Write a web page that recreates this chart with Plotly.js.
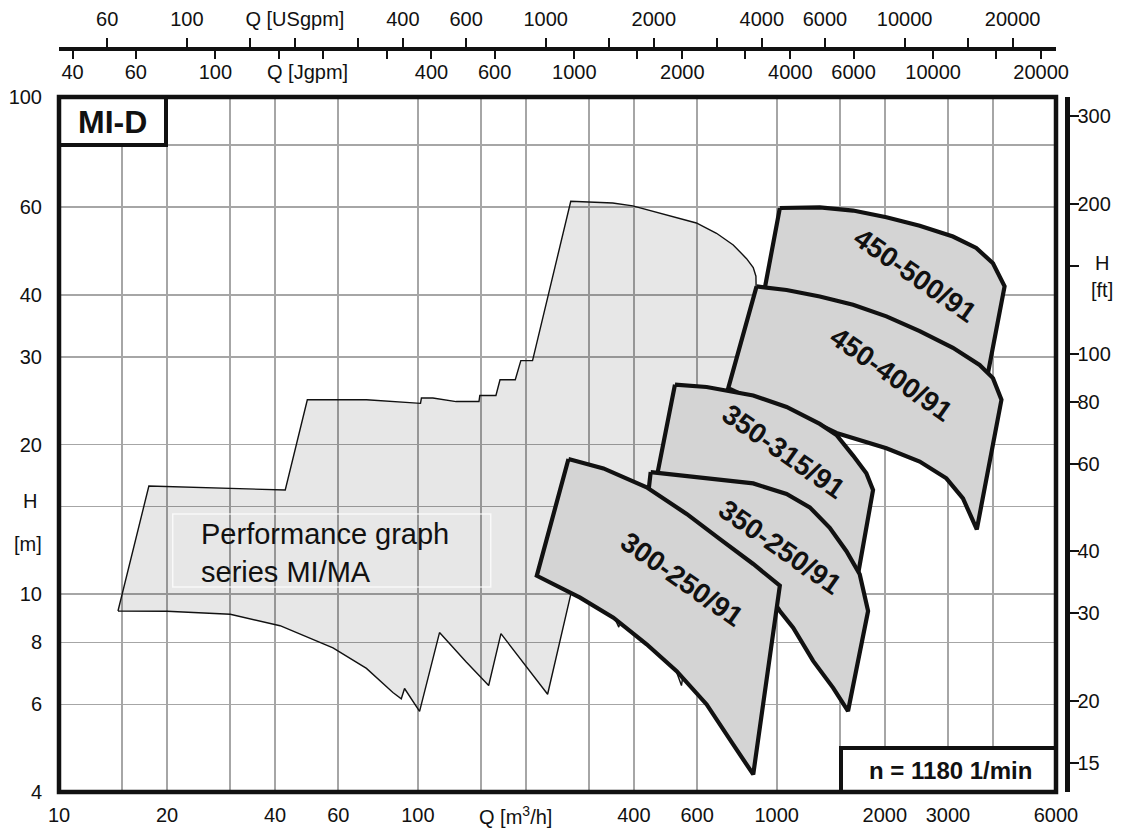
<!DOCTYPE html>
<html><head><meta charset="utf-8">
<script src="https://cdn.plot.ly/plotly-3.0.1.min.js"></script>
<style>html,body{margin:0;padding:0;background:#fff;}#chart{width:1129px;height:832px;}</style>
</head><body><div id="chart"></div>
<script>
// ---------------- data (Q in m3/h, H in m); each outline repeats its first point to close ----------------
// overall MI/MA range (light grey envelope)
const rangeQ = [14.6,17.8,42.7,49.2,71.9,88.9,101.7,102.3,110.1,127.8,148,148.8,165,169.4,186.8,193.6,208.7,266.7,349,397,472,597,679.5,756.5,824,860,875,879,756.6,637,584.8,542.6,400,363,285,267.2,229.9,170.4,157.5,136.2,114.9,101.1,91.8,89.9,85.2,71.9,58.0,41.3,30.0,20.0,14.6];
const rangeH = [9.25,16.5,16.2,24.6,24.6,24.4,24.2,24.8,24.8,24.4,24.4,25.1,25.1,27.0,27.0,29.5,29.5,61.7,61.2,60.4,58.4,55.8,53.2,50.4,47.3,45.4,43.6,35.8,22.2,12.75,9.28,6.55,12.0,8.58,12.5,10.05,6.29,8.33,6.55,7.31,8.37,5.81,6.46,6.16,6.34,7.09,7.80,8.64,9.11,9.24,9.25];

// pump sizes
const pumpNames = ["450-500/91","450-400/91","350-315/91","350-250/91","300-250/91"];
const q450_500 = [1020,1318,1632,2021,2502,3097,3597,4004,4314,3877,3097,2021,1318,926.6,1020];
const h450_500 = [59.8,60.0,59.1,57.3,55.1,52.4,49.7,46.3,41.6,27.8,30.8,35.6,39.1,41.3,59.8];
const q450_400 = [878.6,1065,1318,1632,2021,2502,3097,3675,4004,4228,3610,3303,2969,2502,2021,1632,1467,1318,1065,859.7,732.6,878.6];
const h450_400 = [41.6,40.9,39.7,38.2,36.2,33.8,31.3,28.9,27.2,24.6,13.5,15.58,17.1,18.48,19.66,20.6,21.1,21.9,23.1,24.6,25.96,41.6];
const q350_315 = [520.5,637.8,859.9,1065,1318,1467,1632,1777,1855,1685,1564,1318,1065,694.6,463,520.5];
const h350_315 = [26.4,26.1,25.1,23.8,22.0,20.9,19.0,17.5,16.2,10.97,11.86,14.05,15.5,16.7,17.2,26.4];
const q350_250 = [445.4,561,694.6,860,1065,1236,1405,1564,1703,1797,1580,1436,1263,1111,1020,860,561,438.7,445.4];
const h350_250 = [17.6,17.3,17.05,16.7,15.9,14.95,13.6,12.2,10.97,9.25,5.82,6.48,7.34,8.56,9.25,11.14,14.27,16.0,17.6];
const q300_250 = [262.8,328.9,434,561,694.6,860,1020,860,756.6,637.8,526.2,434,350.6,283.2,214.5,262.8];
const h300_250 = [18.7,17.9,16.4,14.5,12.9,11.5,10.4,4.34,4.98,6.0,7.0,7.93,8.97,9.84,10.89,18.7];
// where each pump name is written (Q, H)
const labelQ = [2434,2087,1046,1024,545];
const labelH = [43.7,27.6,19.4,12.4,10.7];

// axis ticks
const qTicks  = [10,15,20,30,40,60,100,150,200,300,400,600,1000,1500,2000,3000,4000,6000];
const qLabels = ["10","","20","","40","60","100","","","","400","600","1000","","2000","3000","","6000"];
const hTicks  = [4,6,8,10,15,20,30,40,60,80,100];
const hLabels = ["4","6","8","10","","20","30","40","60","","100"];
const ftTicks  = [15,20,30,40,60,80,100,150,200,300];
const ftLabels = ["15","20","30","40","60","80","100","","200","300"];
const usTicks  = [60,100,150,200,300,400,600,1000,1500,2000,3000,4000,6000,10000,15000,20000];
const usLabels = ["60","100","","Q [USgpm]","","400","600","1000","","2000","","4000","6000","10000","","20000"];
const igTicks  = [40,60,100,150,200,300,400,600,1000,1500,2000,3000,4000,6000,10000,15000,20000];
const igLabels = ["40","60","100","","","","400","600","1000","","2000","","4000","6000","10000","","20000"];

// unit conversions
const M_TO_FT = 3.28084, M3H_TO_USGPM = 4.40287, M3H_TO_IGPM = 3.66615;
const Q_MIN = 10, Q_MAX = 6000, H_MIN = 4, H_MAX = 100;

// ---------------- layout helpers ----------------
const W = 1129, HT = 832;
const M = {l:59, r:54, t:20, b:40};
const PW = W - M.l - M.r, PH = HT - M.t - M.b;
const xDomEnd = 997 / PW;
const yDomEnd = (792 - 97) / PH;
const px = x => (x - M.l) / PW;
const py = y => (HT - M.b - y) / PH;
const FONT = "Liberation Sans, Arial, sans-serif";
const INK = "#111111";

const pumpQ = [q450_500,q450_400,q350_315,q350_250,q300_250];
const pumpH = [h450_500,h450_400,h350_315,h350_250,h300_250];

const traces = [{
  x: rangeQ, y: rangeH, type:'scatter', mode:'lines', fill:'toself',
  fillcolor:'rgba(0,0,0,0.095)', line:{color:INK, width:1.4}, hoverinfo:'skip', showlegend:false
}];
pumpNames.forEach((n,i) => traces.push({
  x: pumpQ[i], y: pumpH[i], type:'scatter', mode:'lines', fill:'toself', name:n,
  fillcolor:'#d4d4d4', line:{color:INK, width:4.2}, hoverinfo:'skip', showlegend:false
}));
// carriers for the secondary axes
traces.push({x:[100], y:[10*M_TO_FT], xaxis:'x', yaxis:'y2', mode:'markers', marker:{opacity:0}, hoverinfo:'skip', showlegend:false});
traces.push({x:[100*M3H_TO_USGPM], y:[10], xaxis:'x2', yaxis:'y', mode:'markers', marker:{opacity:0}, hoverinfo:'skip', showlegend:false});
traces.push({x:[100*M3H_TO_IGPM], y:[10], xaxis:'x3', yaxis:'y', mode:'markers', marker:{opacity:0}, hoverinfo:'skip', showlegend:false});

const tickFont = {family:FONT, size:20, color:INK};
const topPos = py(48.5);

const layout = {
  width: W, height: HT, margin: M,
  paper_bgcolor:'#ffffff', plot_bgcolor:'#ffffff', showlegend:false,
  xaxis: {type:'log', range:[Math.log10(Q_MIN), Math.log10(Q_MAX)], domain:[0,xDomEnd], anchor:'y',
    tickmode:'array', tickvals:qTicks, ticktext:qLabels, ticks:'', showline:false, zeroline:false,
    showgrid:true, gridcolor:'#a6a6a6', gridwidth:1.6, tickfont:tickFont, ticklabelstandoff:9, fixedrange:true},
  yaxis: {type:'log', range:[Math.log10(H_MIN), Math.log10(H_MAX)], domain:[0,yDomEnd], anchor:'x',
    tickmode:'array', tickvals:hTicks, ticktext:hLabels, ticks:'', showline:false, zeroline:false,
    showgrid:true, gridcolor:'#a6a6a6', gridwidth:1.6, tickfont:tickFont, ticklabelstandoff:16, fixedrange:true},
  yaxis2: {type:'log', overlaying:'y', anchor:'free', position:px(1067), side:'right',
    range:[Math.log10(H_MIN*M_TO_FT), Math.log10(H_MAX*M_TO_FT)],
    tickmode:'array', tickvals:ftTicks, ticktext:ftLabels, ticks:'outside', ticklen:9, tickwidth:2, tickcolor:INK,
    showline:true, linewidth:4.5, linecolor:INK, showgrid:false, zeroline:false, tickfont:tickFont,
    ticklabelstandoff:-5, fixedrange:true},
  xaxis2: {type:'log', overlaying:'x', anchor:'free', position:topPos, side:'top',
    range:[Math.log10(Q_MIN*M3H_TO_USGPM), Math.log10(Q_MAX*M3H_TO_USGPM)],
    tickmode:'array', tickvals:usTicks, ticktext:usLabels, ticks:'outside', ticklen:9, tickwidth:2, tickcolor:INK,
    showline:true, linewidth:4.5, linecolor:INK, showgrid:false, zeroline:false, tickfont:tickFont,
    ticklabelstandoff:4, fixedrange:true},
  xaxis3: {type:'log', overlaying:'x', anchor:'free', position:topPos, side:'bottom',
    range:[Math.log10(Q_MIN*M3H_TO_IGPM), Math.log10(Q_MAX*M3H_TO_IGPM)],
    tickmode:'array', tickvals:igTicks, ticktext:igLabels, ticks:'outside', ticklen:9, tickwidth:2, tickcolor:INK,
    showline:false, showgrid:false, zeroline:false, tickfont:tickFont, ticklabelstandoff:-4, fixedrange:true},
  shapes: [
    {type:'rect', xref:'paper', yref:'paper', x0:px(172.7), x1:px(490.7), y0:py(587), y1:py(514),
     line:{color:'rgba(255,255,255,0.75)', width:1.5}, fillcolor:'rgba(0,0,0,0)', layer:'above'},
    {type:'rect', xref:'x domain', yref:'y domain', x0:0, x1:(166-59)/997, y0:(792-145)/695, y1:1,
     line:{color:INK, width:4}, fillcolor:'#ffffff', layer:'above'},
    {type:'rect', xref:'x domain', yref:'y domain', x0:(841-59)/997, x1:1, y0:0, y1:(792-748)/695,
     line:{color:INK, width:4}, fillcolor:'#ffffff', layer:'above'},
    {type:'rect', xref:'x domain', yref:'y domain', x0:0, x1:1, y0:0, y1:1,
     line:{color:INK, width:4.5}, fillcolor:'rgba(0,0,0,0)', layer:'above'}
  ],
  annotations: []
};

const ann = layout.annotations;
pumpNames.forEach((n,i) => ann.push({
  text:n, xref:'x', yref:'y', x:Math.log10(labelQ[i]), y:Math.log10(labelH[i]),
  xanchor:'center', yanchor:'middle',
  textangle:35, showarrow:false, font:{family:FONT, size:28, color:INK, weight:'bold'}
}));
const txt = (t, x, y, size, bold, extra) => ann.push(Object.assign({
  text:t, xref:'paper', yref:'paper', x:px(x), y:py(y), showarrow:false,
  xanchor:'center', yanchor:'middle',
  font:{family:FONT, size:size, color:INK, weight: bold ? 'bold' : 'normal'}
}, extra || {}));
txt("Performance graph<br>series MI/MA", 199, 553, 29, false, {xanchor:'left', align:'left'});
txt("MI-D", 112, 122, 32, true);
txt("n = 1180 1/min", 950, 770, 24, true);
txt("H", 29.5, 501, 20, false);
txt("[m]", 28, 544, 20, false);
txt("H", 1102, 263, 20, false);
txt("[ft]", 1102, 290, 20, false);
txt("Q [m<sup>3</sup>/h]", 515, 815, 20, false);
txt("Q [Jgpm]", 307, 72, 20, false);

Plotly.newPlot('chart', traces, layout, {staticPlot:true, displayModeBar:false});
</script>
</body></html>
